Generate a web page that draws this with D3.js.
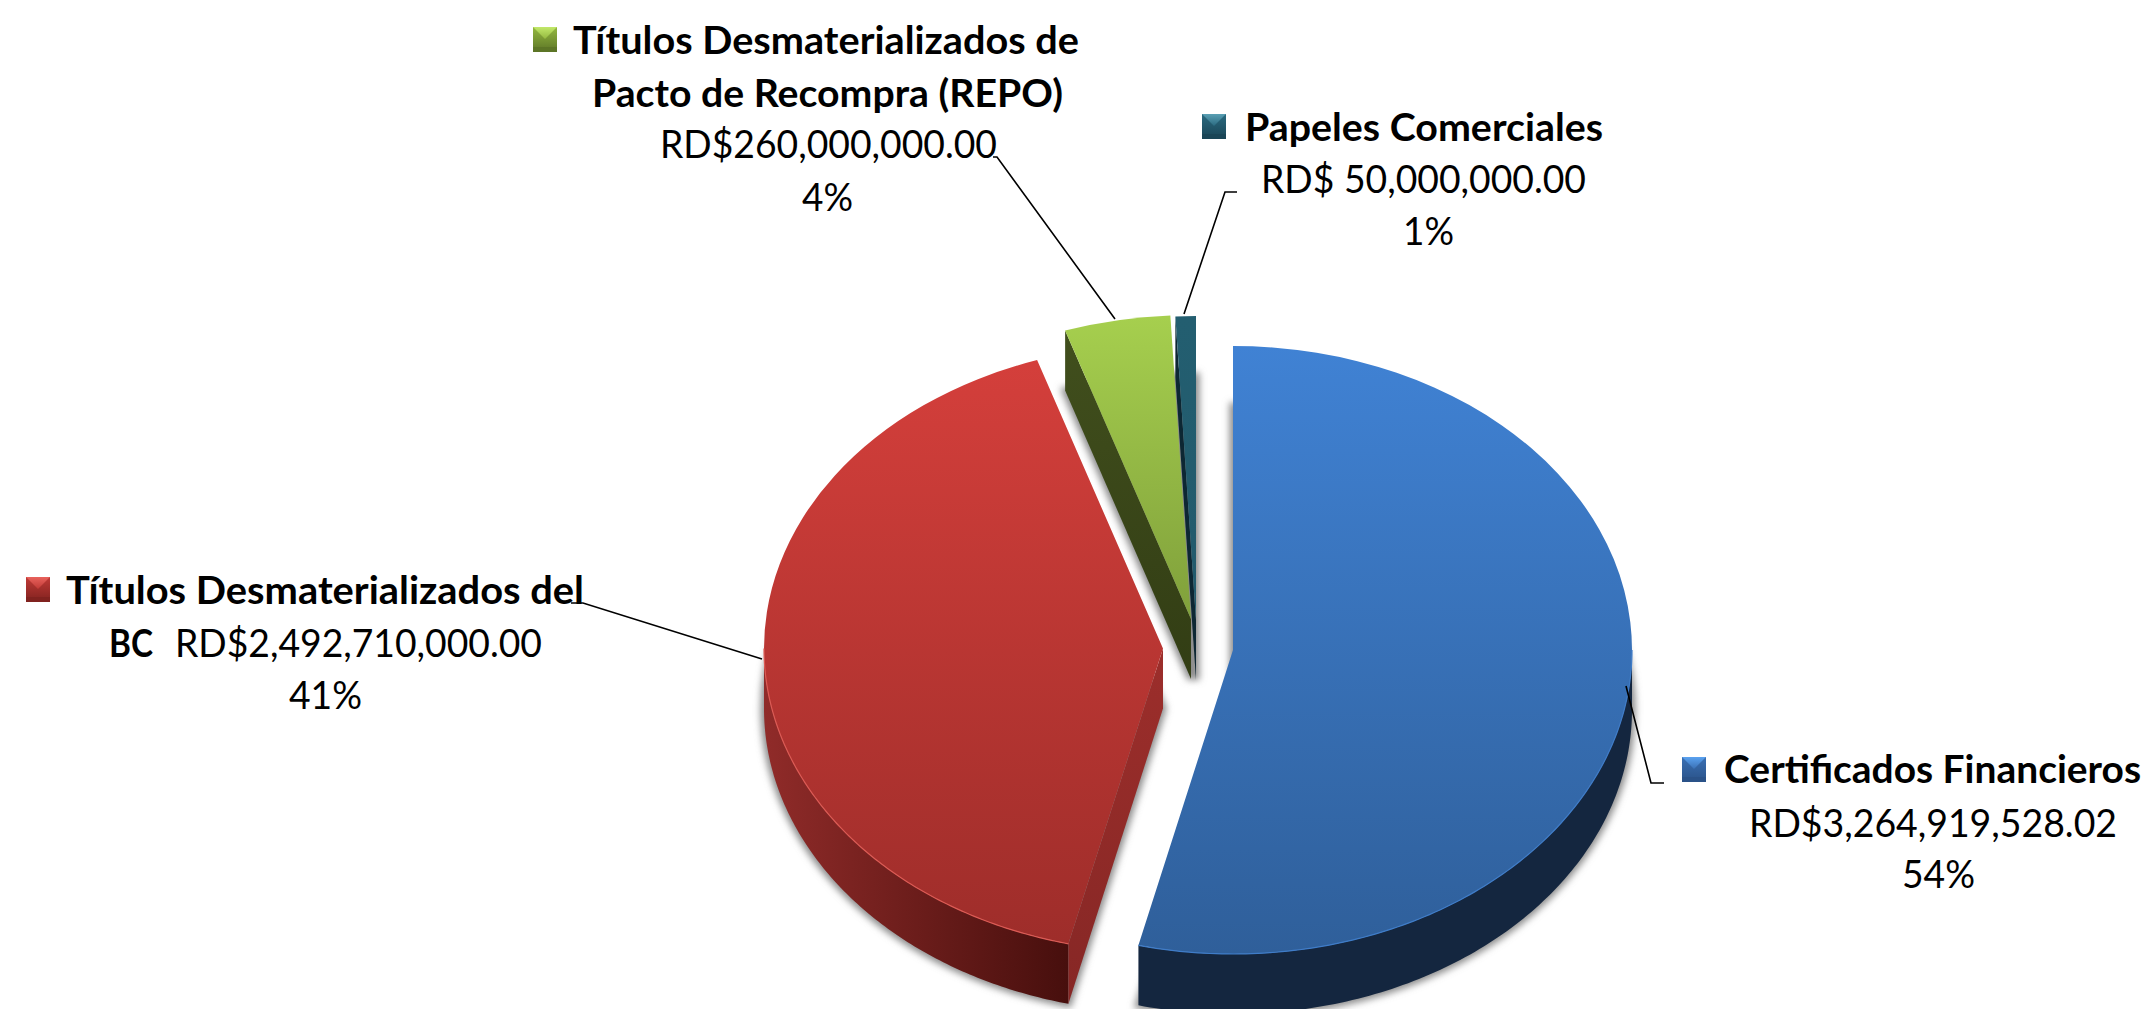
<!DOCTYPE html>
<html><head><meta charset="utf-8">
<script src="https://cdn.jsdelivr.net/npm/d3@7"></script>
<style>html,body{margin:0;padding:0;background:#fff;overflow:hidden}svg{display:block}text{font-family:Lato,"Open Sans",sans-serif;fill:#000}</style>
</head><body><svg id="c" width="2150" height="1009"></svg>
<script>
// ---- data ----
const categories = ["Certificados Financieros","Títulos Desmaterializados del BC","Títulos Desmaterializados de Pacto de Recompra (REPO)","Papeles Comerciales"];
const values = [3264919528.02, 2492710000, 260000000, 50000000];
const amountLabels = ["RD$3,264,919,528.02","RD$2,492,710,000.00","RD$260,000,000.00","RD$ 50,000,000.00"];
const percentLabels = ["54%","41%","4%","1%"];

// ---- styling / layout ----
const W=2150,H=1009, RX=399, RY=304, DEPTH=60, k=RY/RX;
const centers=[[1233,650],[1163,648.5],[1191,619],[1196,620]];
const topColors=[["#4082d4","#2f5f9a"],["#d43f3b","#9e2d2a"],["#a6cf4e","#80a03b"],["#235e70","#225a6c"]];
const rimColors=["#3f7cc8","#dc5a54","#a6cf4e","#235e70"];
const wallColors=[["#14263f","#14263f"],["#902b29","#470f0d"],["#3f4d1c","#3f4d1c"],["#0f2a35","#0f2a35"]];
const cutColors=[null,["#9c2e2b","#862725"],["#414f1d","#323d14"],["#0d2733","#0d2733"]];
const markerColors=[["#5aa2f0","#3a70b4","#2a5288"],["#e8625c","#c03a36","#80221f"],["#c2e86a","#94b840","#5c7526"],["#5aa0b4","#2a6a80","#1a4556"]];

const svg=d3.select("#c"), defs=svg.append("defs");
const blur=defs.append("filter").attr("id","blur").attr("x","-10%").attr("y","-10%").attr("width","120%").attr("height","120%");
blur.append("feGaussianBlur").attr("stdDeviation",3.5);
function grad(id,c,horizontal){
  const g=defs.append("linearGradient").attr("id",id).attr("x1",0).attr("y1",0).attr("x2",horizontal?1:0).attr("y2",horizontal?0:1);
  g.append("stop").attr("offset",0).attr("stop-color",c[0]);
  g.append("stop").attr("offset",1).attr("stop-color",c[1]);
  return `url(#${id})`;
}
const pie=d3.pie().sort(null).value(d=>d).startAngle(0).endAngle(2*Math.PI);
const arcs=pie(values);
const arc=d3.arc().innerRadius(0).outerRadius(RX);
const pt=(i,a)=>[centers[i][0]+RX*Math.sin(a),centers[i][1]-RY*Math.cos(a)];
const line=d3.line();

// soft shadows under the extruded base
const shadow=svg.append("g").attr("filter","url(#blur)");
arcs.forEach((d,i)=>{
  shadow.append("path").attr("d",arc(d))
    .attr("transform",`translate(${centers[i][0]},${centers[i][1]+DEPTH}) scale(1,${k})`)
    .attr("fill","#8c8c8c").attr("stroke","#8c8c8c").attr("stroke-width",7)
    .attr("vector-effect","non-scaling-stroke");
});

// slices, back to front
[3,2,1,0].forEach(i=>{
  const d=arcs[i], g=svg.append("g"), c=centers[i];
  // outer wall and rim highlight on the front half only
  const a0=Math.max(d.startAngle,Math.PI/2), a1=Math.min(d.endAngle,3*Math.PI/2);
  let top=null;
  if(a1>a0){
    const steps=d3.range(0,121).map(t=>a0+(a1-a0)*t/120);
    top=steps.map(a=>pt(i,a));
    const bottom=top.map(p=>[p[0],p[1]+DEPTH]).reverse();
    g.append("path").attr("d",line(top.concat(bottom))+"Z")
      .attr("fill",grad("wall"+i,wallColors[i],true));
  }
  // visible cut face (the one at the slice's start angle)
  if(cutColors[i]){
    const r=pt(i,d.startAngle);
    g.append("path").attr("d",line([c,r,[r[0],r[1]+DEPTH],[c[0],c[1]+DEPTH]])+"Z")
      .attr("fill",grad("cut"+i,cutColors[i],false));
  }
  // top face
  g.append("path").attr("d",arc(d))
    .attr("transform",`translate(${c[0]},${c[1]}) scale(1,${k})`)
    .attr("fill",grad("top"+i,topColors[i],false));
  if(top) g.append("path").attr("d",line(top)).attr("fill","none").attr("stroke",rimColors[i]).attr("stroke-width",1.2);
});

// leader lines
const leaders=[
  [[1626,686],[1651,783],[1664,783]],
  [[571,603],[583,603],[762,659]],
  [[993,157],[997,157],[1115,319]],
  [[1237,192],[1225,192],[1184,314]]
];
leaders.forEach(l=>svg.append("path").attr("d",line(l)).attr("fill","none").attr("stroke","#000").attr("stroke-width",1.6));

// labels: [text, left x, baseline, width, bold]
const SIZE=39;
const labelRows=[
  [[categories[0],1724,783,417,true],[amountLabels[0],1749,837,368,false],[percentLabels[0],1902,888,73,false]],
  [["Títulos Desmaterializados del",66,604,518,true],["BC",109,657,44,true],[amountLabels[1],175,657,367,false],[percentLabels[1],289,709,73,false]],
  [["Títulos Desmaterializados de",573,54,506,true],["Pacto de Recompra (REPO)",592,107,471,true],[amountLabels[2],660,158,337,false],[percentLabels[2],802,211,51,false]],
  [[categories[3],1245,141,358,true],[amountLabels[3],1261,193,325,false],[percentLabels[3],1403,245,51,false]]
];
labelRows.forEach(rows=>rows.forEach(r=>{
  svg.append("text").text(r[0]).attr("x",r[1]).attr("y",r[2])
    .attr("font-size",SIZE).attr("font-weight",r[4]?700:400)
    .attr("textLength",r[3]).attr("lengthAdjust","spacingAndGlyphs");
}));

// bevelled legend keys
const markers=[[1682,757],[26,577],[533,27],[1202,114]];
const M=24,B=5;
markers.forEach((m,i)=>{
  const [x,y]=m, c=markerColors[i], g=svg.append("g");
  g.append("rect").attr("x",x).attr("y",y).attr("width",M).attr("height",M+1)
    .attr("fill",grad("mk"+i,[c[1],c[2]],false));
  g.append("path").attr("d",line([[x,y],[x+M,y],[x+M/2,y+M*0.5]])+"Z")
    .attr("fill",grad("mt"+i,[c[0],c[1]],false));
  g.append("rect").attr("x",x).attr("y",y+M+1-B).attr("width",M).attr("height",B).attr("fill",c[2]);
});
</script></body></html>
